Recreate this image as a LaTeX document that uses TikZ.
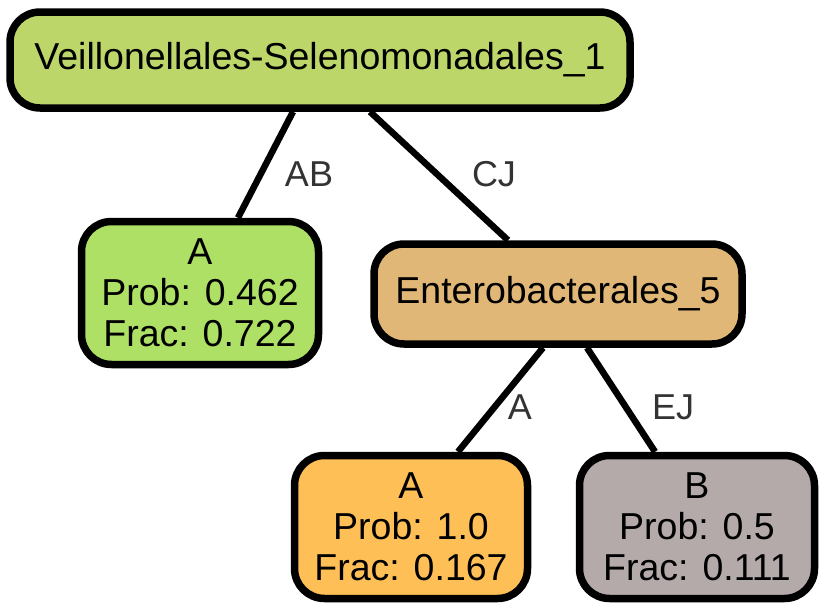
\documentclass[tikz,border=0pt]{standalone}
\usepackage{fontspec}
\setmainfont{Liberation Sans}
\definecolor{cRoot}{HTML}{BDD66A}
\definecolor{cAone}{HTML}{ADE065}
\definecolor{cEnt}{HTML}{E0B776}
\definecolor{cAtwo}{HTML}{FEBF57}
\definecolor{cB}{HTML}{B4AAAA}
\definecolor{cLab}{HTML}{333333}
\begin{document}
\begin{tikzpicture}[x=1pt,y=-1pt,
  nbox/.style={draw=black, line width=7.5pt, rounded corners=30pt, align=center,
    inner sep=0pt, font=\fontsize{37.5}{41}\selectfont},
  edge/.style={draw=black, line width=6.5pt},
  elab/.style={text=cLab, font=\fontsize{36}{40}\selectfont, inner sep=0pt}]
\useasboundingbox (0,0) rectangle (828,613);
\node[nbox, fill=cRoot, minimum width=620pt, minimum height=96pt] (root) at (320,60) {Veillonellales-Selenomonadales\_1};
\node[nbox, fill=cAone, minimum width=237pt, minimum height=143pt] (a1) at (200,293) {A\\Prob: 0.462\\Frac: 0.722};
\node[nbox, fill=cEnt, minimum width=368pt, minimum height=100pt] (ent) at (558,294) {Enterobacterales\_5};
\node[nbox, fill=cAtwo, minimum width=233pt, minimum height=143pt] (a2) at (411,527) {A\\Prob: 1.0\\Frac: 0.167};
\node[nbox, fill=cB, minimum width=235pt, minimum height=143pt] (b) at (697,527) {B\\Prob: 0.5\\Frac: 0.111};
\draw[edge] ([xshift=-27pt]root.south) -- ([xshift=38pt]a1.north);
\draw[edge] ([xshift=50pt]root.south) -- ([xshift=-50pt]ent.north);
\draw[edge] ([xshift=-15pt]ent.south) -- ([xshift=47pt]a2.north);
\draw[edge] ([xshift=29pt]ent.south) -- ([xshift=-42pt]b.north);
\node[elab] (lab) at (309,174) {AB};
\node[elab] (lcj) at (494,174) {CJ};
\node[elab] (la) at (520,407) {A};
\node[elab] (lej) at (673,407) {EJ};
\end{tikzpicture}
\end{document}
